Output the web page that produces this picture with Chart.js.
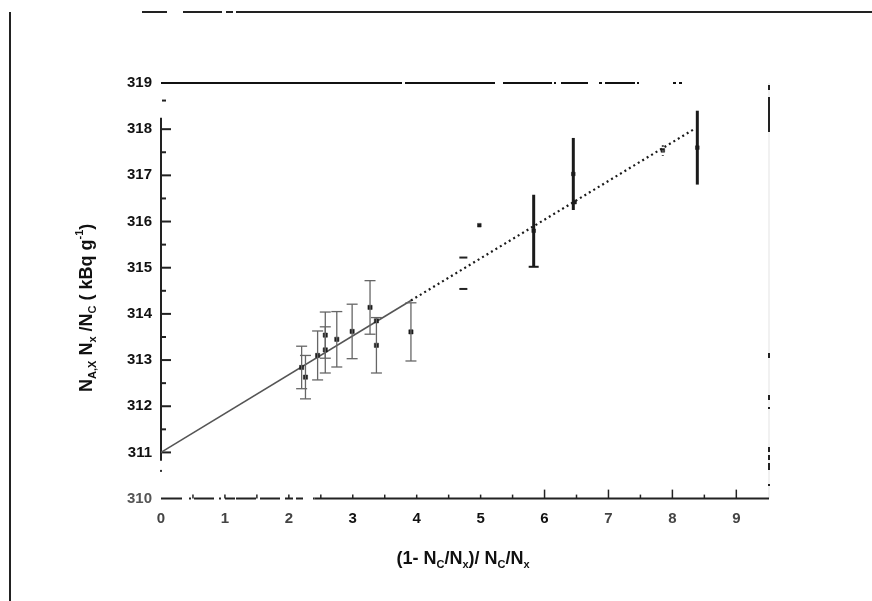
<!DOCTYPE html>
<html>
<head>
<meta charset="utf-8">
<script src="https://cdn.jsdelivr.net/npm/chart.js@4.4.1/dist/chart.umd.min.js"></script>
<style>
  html, body { margin: 0; padding: 0; background: #fff; }
  #c { display: block; }
</style>
</head>
<body>
<canvas id="c" width="872" height="601"></canvas>
<script>
// ---------- data ----------
const xVals = [2.20, 2.26, 2.45, 2.57, 2.57, 2.75, 2.99, 3.27, 3.37, 3.37, 3.91, 4.73, 4.98, 5.83, 6.45, 6.47, 7.85, 8.39];
const yVals = [312.84, 312.63, 313.10, 313.54, 313.22, 313.45, 313.62, 314.14, 313.85, 313.32, 313.61, 314.88, 315.92, 315.80, 317.03, 316.42, 317.54, 317.60];
const yErr  = [0.46, 0.47, 0.53, 0.50, 0.50, 0.60, 0.59, 0.58, 0, 0.60, 0.63, 0.34, 0, 0.78, 0.78, 0, 0.12, 0.80];

// fitted straight line: solid part and dotted (extrapolated) part
const fitSolidX = [0, 3.91];
const fitSolidY = [311.00, 314.29];
const fitDotX   = [3.91, 8.35];
const fitDotY   = [314.29, 318.01];

const xTickLabels = ['0','1','2','3','4','5','6','7','8','9'];
const yTickLabels = ['310','311','312','313','314','315','316','317','318','319'];

const xTitleParts = [['(1- N',''],['C','sub'],['/N',''],['x','sub'],[')/ N',''],['C','sub'],['/N',''],['x','sub']];
const yTitleParts = [['N',''],['A,X','sub'],[' N',''],['x','sub'],[' /N',''],['C','sub'],[' ( kBq g',''],['-1','sup'],[')','']];

// ---------- helpers ----------
const FONT = '"Liberation Sans", Arial, sans-serif';
function richWidth(ctx, parts, size) {
  let w = 0;
  parts.forEach(([t, k]) => {
    ctx.font = 'bold ' + (k ? Math.round(size * 0.6) : size) + 'px ' + FONT;
    w += ctx.measureText(t).width;
  });
  return w;
}
function drawRich(ctx, parts, cx, cy, size) {
  const w = richWidth(ctx, parts, size);
  let x = cx - w / 2;
  ctx.textBaseline = 'middle';
  ctx.textAlign = 'left';
  ctx.fillStyle = '#111';
  parts.forEach(([t, k]) => {
    const s = k ? Math.round(size * 0.6) : size;
    ctx.font = 'bold ' + s + 'px ' + FONT;
    const dy = k === 'sub' ? size * 0.32 : (k === 'sup' ? -size * 0.38 : 0);
    ctx.fillText(t, x, cy + dy);
    x += ctx.measureText(t).width;
  });
}

function barStyle(i) {
  const xv = xVals[i];
  if (xv < 4.5) return { color: '#666', lw: 1.3, cap: 5.5, top: true, bottom: true, line: true };
  if (i === 11) return { color: '#222', lw: 2, cap: 4, top: true, bottom: true, line: false };
  if (yErr[i] < 0.2) return { color: '#555', lw: 2, cap: 0, top: false, bottom: false, line: true, dash: [2, 3] };
  return { color: '#1a1a1a', lw: 3, cap: 5, top: false, bottom: i === 13, line: true };
}

const decorPlugin = {
  id: 'decor',
  beforeDatasetsDraw(chart) {
    const { ctx, scales: { x, y } } = chart;
    ctx.save();
    ctx.strokeStyle = '#111';
    ctx.lineCap = 'butt';
    const L = x.getPixelForValue(0), R = x.getPixelForValue(x.max);
    const T = y.getPixelForValue(319), B = y.getPixelForValue(310);

    // outer frame of the scanned figure
    ctx.lineWidth = 2;
    ctx.strokeStyle = '#222';
    ctx.beginPath(); ctx.moveTo(10, 12); ctx.lineTo(10, 601); ctx.stroke();
    ctx.beginPath(); ctx.moveTo(236, 12); ctx.lineTo(872, 12); ctx.stroke();
    ctx.beginPath(); ctx.moveTo(142, 12); ctx.lineTo(167, 12); ctx.stroke();
    ctx.beginPath(); ctx.moveTo(183, 12); ctx.lineTo(222, 12); ctx.moveTo(226, 12); ctx.lineTo(233, 12); ctx.stroke();

    // top border (broken)
    ctx.strokeStyle = '#111';
    ctx.lineWidth = 2;
    ctx.setLineDash([241, 3, 90, 8, 49, 2, 2, 5, 27, 11, 3, 3, 30, 2, 2, 34, 3, 3, 3, 200]);
    ctx.beginPath(); ctx.moveTo(L, T); ctx.lineTo(R - 80, T); ctx.stroke();

    // right border: faint with a few dark fragments
    ctx.setLineDash([]);
    ctx.strokeStyle = '#ececec';
    ctx.lineWidth = 1.5;
    ctx.beginPath(); ctx.moveTo(R + 2, T); ctx.lineTo(R + 2, B); ctx.stroke();
    ctx.strokeStyle = '#222';
    ctx.lineWidth = 2;
    [[85, 90], [97, 132], [353, 358], [395, 400], [407, 409], [447, 452], [455, 460], [463, 470], [484, 486]].forEach(([a, b]) => {
      ctx.beginPath(); ctx.moveTo(R + 2, a); ctx.lineTo(R + 2, b); ctx.stroke();
    });

    // left axis line (broken near top and bottom)
    ctx.lineWidth = 2;
    ctx.beginPath(); ctx.moveTo(L, y.getPixelForValue(318.25)); ctx.lineTo(L, y.getPixelForValue(310.82)); ctx.stroke();
    ctx.beginPath(); ctx.moveTo(L + 1, y.getPixelForValue(318.62)); ctx.lineTo(L + 5, y.getPixelForValue(318.62)); ctx.stroke();
    ctx.fillStyle = '#333';
    ctx.fillRect(L - 1, y.getPixelForValue(310.6) - 1, 2, 2);

    // y ticks pointing inwards
    ctx.lineWidth = 2;
    for (let v = 311; v <= 318.01; v += 0.5) {
      const py = y.getPixelForValue(v);
      const len = Number.isInteger(v) ? 10 : 5;
      ctx.beginPath(); ctx.moveTo(L, py); ctx.lineTo(L + len, py); ctx.stroke();
    }

    // bottom axis (dashed near the origin, solid after)
    ctx.lineWidth = 2;
    ctx.setLineDash([21, 7, 2, 3, 20, 5, 2, 4, 10, 1, 20, 4, 20, 5, 8, 3, 7, 10]);
    ctx.beginPath(); ctx.moveTo(L, B); ctx.lineTo(x.getPixelForValue(2.4), B); ctx.stroke();
    ctx.setLineDash([]);
    ctx.beginPath(); ctx.moveTo(x.getPixelForValue(2.4), B); ctx.lineTo(R + 2, B); ctx.stroke();
    // x ticks pointing inwards
    ctx.lineWidth = 1.5;
    for (let v = 0.5; v <= 9.01; v += 0.5) {
      const px = x.getPixelForValue(v);
      const major = Number.isInteger(v) && v >= 6;
      const len = major ? 9 : 4;
      ctx.beginPath(); ctx.moveTo(px, B); ctx.lineTo(px, B - len); ctx.stroke();
    }
    ctx.restore();
  },
  afterDatasetsDraw(chart) {
    const { ctx, scales: { x, y } } = chart;
    ctx.save();
    xVals.forEach((xv, i) => {
      const e = yErr[i];
      if (!e) return;
      const st = barStyle(i);
      const px = x.getPixelForValue(xv);
      const pt = y.getPixelForValue(yVals[i] + e);
      const pb = y.getPixelForValue(yVals[i] - e);
      ctx.strokeStyle = st.color;
      ctx.lineWidth = st.lw;
      ctx.setLineDash(st.dash || []);
      if (st.line) { ctx.beginPath(); ctx.moveTo(px, pt); ctx.lineTo(px, pb); ctx.stroke(); }
      ctx.setLineDash([]);
      ctx.lineWidth = Math.min(st.lw, 2);
      if (st.top) { ctx.beginPath(); ctx.moveTo(px - st.cap, pt); ctx.lineTo(px + st.cap, pt); ctx.stroke(); }
      if (st.bottom) { ctx.beginPath(); ctx.moveTo(px - st.cap, pb); ctx.lineTo(px + st.cap, pb); ctx.stroke(); }
    });
    ctx.restore();
  },
  afterDraw(chart) {
    const { ctx, chartArea } = chart;
    ctx.save();
    // x axis title
    drawRich(ctx, xTitleParts, 463, 559, 18);
    // y axis title, rotated
    ctx.translate(87, (chartArea.top + chartArea.bottom) / 2 + 17);
    ctx.rotate(-Math.PI / 2);
    drawRich(ctx, yTitleParts, 0, 0, 18);
    ctx.restore();
  }
};

const pointData = xVals.map((v, i) => ({ x: v, y: yVals[i] }));

new Chart(document.getElementById('c'), {
  type: 'scatter',
  data: {
    datasets: [
      {
        label: 'data',
        data: pointData,
        pointStyle: 'rect',
        pointRadius: (c) => (c.dataIndex === 11 ? 0 : (xVals[c.dataIndex] < 4.5 ? 3 : 2.6)),
        backgroundColor: '#1c1c1c',
        borderColor: '#1c1c1c',
        borderWidth: 0.5,
        order: 0
      },
      {
        label: 'fit',
        type: 'line',
        data: fitSolidX.map((v, i) => ({ x: v, y: fitSolidY[i] })),
        borderColor: '#555',
        borderWidth: 1.6,
        pointRadius: 0,
        fill: false,
        order: 2
      },
      {
        label: 'fit extrapolated',
        type: 'line',
        data: fitDotX.map((v, i) => ({ x: v, y: fitDotY[i] })),
        borderColor: '#1a1a1a',
        borderWidth: 2.2,
        borderDash: [2, 3.2],
        pointRadius: 0,
        fill: false,
        order: 1
      }
    ]
  },
  options: {
    responsive: false,
    devicePixelRatio: 1,
    animation: false,
    events: [],
    layout: { padding: { top: 83, right: 105, left: 0, bottom: 0 } },
    plugins: { legend: { display: false }, tooltip: { enabled: false }, title: { display: false } },
    scales: {
      x: {
        type: 'linear',
        min: 0,
        max: 9.48,
        grid: { display: false, drawTicks: false },
        border: { display: false },
        afterBuildTicks: (s) => { s.ticks = xTickLabels.map((t) => ({ value: Number(t) })); },
        afterFit: (s) => { s.height = 102.4; },
        ticks: {
          padding: 11,
          maxRotation: 0,
          autoSkip: false,
          color: (c) => (c.tick && c.tick.value >= 3 && c.tick.value <= 6 ? '#111' : '#444'),
          font: { family: FONT, size: 15, weight: 'bold' },
          callback: (v) => xTickLabels[v]
        }
      },
      y: {
        type: 'linear',
        min: 310,
        max: 319,
        grid: { display: false, drawTicks: false },
        border: { display: false },
        afterBuildTicks: (s) => { s.ticks = yTickLabels.map((t) => ({ value: Number(t) })); },
        afterFit: (s) => { s.width = 161; },
        ticks: {
          padding: 9,
          autoSkip: false,
          color: (c) => (c.tick && c.tick.value === 310 ? '#555' : '#111'),
          font: { family: FONT, size: 15, weight: 'bold' },
          callback: (v) => yTickLabels[yTickLabels.indexOf(String(v))]
        }
      }
    }
  },
  plugins: [decorPlugin]
});
</script>
</body>
</html>
